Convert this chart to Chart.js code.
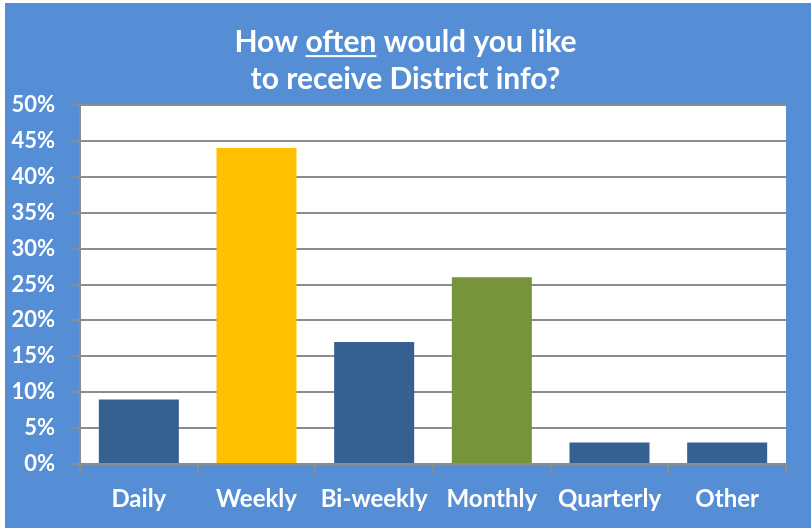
<!DOCTYPE html>
<html>
<head>
<meta charset="utf-8">
<script src="https://cdn.jsdelivr.net/npm/chart.js@4"></script>
<style>
html,body{margin:0;padding:0;background:#ffffff;}
#wrap{position:relative;width:811px;height:529px;}
</style>
</head>
<body>
<div id="wrap"><canvas id="c" width="811" height="529"></canvas></div>
<script>
const categories = ["Daily", "Weekly", "Bi-weekly", "Monthly", "Quarterly", "Other"];
const values = [9, 44, 17, 26, 3, 3];
const barColors = ["#376092", "#FFC000", "#376092", "#77933C", "#376092", "#376092"];
const titleLines = ["How often would you like", "to receive District info?"];
const underlineWord = "often";

const FONT = "Lato, 'Open Sans', sans-serif";
const GRID = "#8c8c8c";
const TITLE_SIZE = 30;
const TITLE_LH = 37;

const bgPlugin = {
  id: "bg",
  beforeDraw(chart) {
    const ctx = chart.ctx;
    ctx.save();
    ctx.fillStyle = "#ffffff";
    ctx.fillRect(0, 0, chart.width, chart.height);
    ctx.fillStyle = "#558ED5";
    ctx.fillRect(5, 3, chart.width - 5, chart.height - 4);
    const a = chart.chartArea;
    ctx.fillStyle = "#ffffff";
    ctx.fillRect(a.left, a.top, a.right - a.left, a.bottom - a.top);
    ctx.restore();
  },
  afterDraw(chart) {
    const tb = chart.titleBlock;
    if (!tb) return;
    const ctx = chart.ctx;
    const opts = chart.options.plugins.title;
    ctx.save();
    ctx.font = "bold " + TITLE_SIZE + "px " + FONT;
    const line = titleLines[0];
    const total = ctx.measureText(line).width;
    const idx = line.indexOf(underlineWord);
    const pre = ctx.measureText(line.slice(0, idx)).width;
    const w = ctx.measureText(underlineWord).width;
    const cx = (tb.left + tb.right) / 2;
    const x0 = cx - total / 2 + pre;
    const yMid = tb.top + opts.padding.top + TITLE_LH / 2;
    ctx.fillStyle = "#ffffff";
    ctx.fillRect(x0, yMid + TITLE_SIZE * 0.42, w, 2);
    ctx.restore();
  }
};

new Chart(document.getElementById("c"), {
  type: "bar",
  data: {
    labels: categories,
    datasets: [{
      data: values,
      backgroundColor: barColors,
      borderWidth: 0,
      barPercentage: 0.68,
      categoryPercentage: 1.0
    }]
  },
  options: {
    responsive: false,
    animation: false,
    devicePixelRatio: 1,
    layout: { padding: { left: 0, right: 0, top: 0, bottom: 0 } },
    plugins: {
      legend: { display: false },
      tooltip: { enabled: false },
      title: {
        display: true,
        text: titleLines,
        color: "#ffffff",
        font: { family: FONT, size: TITLE_SIZE, weight: "bold", lineHeight: TITLE_LH + "px" },
        padding: { top: 24, bottom: 7 }
      }
    },
    scales: {
      x: {
        offset: true,
        grid: { offset: true, drawOnChartArea: false, drawTicks: true, tickLength: 10, color: GRID, lineWidth: 2 },
        border: { display: true, color: GRID, width: 2 },
        ticks: { color: "#ffffff", font: { family: FONT, size: 24, weight: "bold" }, padding: 11, maxRotation: 0 },
        afterFit(s) { s.height = 65; }
      },
      y: {
        min: 0, max: 50,
        ticks: { stepSize: 5, color: "#ffffff", font: { family: FONT, size: 22, weight: "bold" }, padding: 17,
                 callback: v => v + "%" },
        grid: { color: GRID, lineWidth: 2, tickLength: 8, drawTicks: true },
        border: { display: true, color: GRID, width: 2 },
        afterFit(s) { s.width = 80; }
      },
      y2: {
        position: "right",
        display: true,
        min: 0, max: 50,
        ticks: { display: false },
        grid: { display: false, drawOnChartArea: false },
        border: { display: false },
        afterFit(s) { s.width = 25; }
      }
    }
  },
  plugins: [bgPlugin]
});
</script>
</body>
</html>
